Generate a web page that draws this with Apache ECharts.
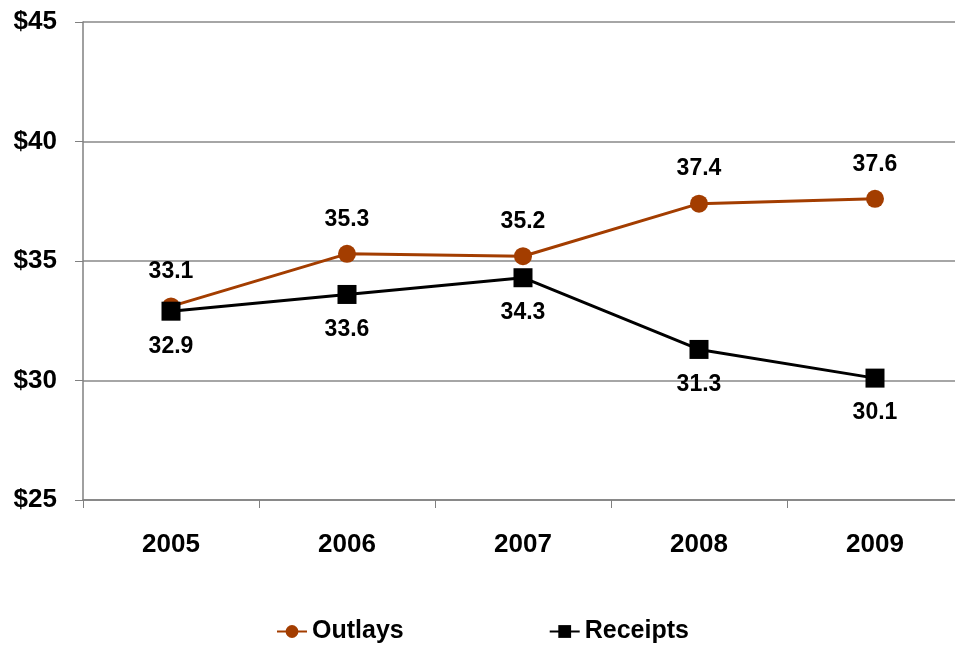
<!DOCTYPE html>
<html><head><meta charset="utf-8">
<script src="https://cdn.jsdelivr.net/npm/echarts@6/dist/echarts.min.js"></script>
<style>html,body{margin:0;padding:0;background:#fff}#c{width:955px;height:645px}</style>
</head><body><div id="c"></div>
<script>
const categories = ['2005','2006','2007','2008','2009'];
const outlays = [33.1, 35.3, 35.2, 37.4, 37.6];
const receipts = [32.9, 33.6, 34.3, 31.3, 30.1];
const yTicks = [25, 30, 35, 40, 45];

const FONT = 'Liberation Sans, Arial, sans-serif';
const chart = echarts.init(document.getElementById('c'));
const lbl = {show:true, fontFamily:FONT, fontWeight:'bold', fontSize:23, color:'#000', distance:14};
chart.setOption({
  animation:false,
  backgroundColor:'#fff',
  grid:{left:83, top:22, width:880, height:478, outerBoundsMode:'none', containLabel:false},
  legend:{
    top:614, left:271, itemGap:145, itemWidth:30, itemHeight:16,
    textStyle:{fontFamily:FONT, fontWeight:'bold', fontSize:25, color:'#000'},
    data:['Outlays','Receipts']
  },
  xAxis:{
    type:'category', data:categories, boundaryGap:true,
    axisLine:{lineStyle:{color:'#808080', width:1.5}},
    axisTick:{show:true, length:8, inside:false, lineStyle:{color:'#808080'}},
    axisLabel:{margin:32, fontFamily:FONT, fontWeight:'bold', fontSize:26, color:'#000'}
  },
  yAxis:{
    type:'value', min:25, max:45, interval:5,
    axisLine:{show:true, lineStyle:{color:'#808080', width:1.5}},
    axisTick:{show:true, length:8, lineStyle:{color:'#808080'}},
    splitLine:{show:true, lineStyle:{color:'#a6a6a6', width:2}},
    axisLabel:{margin:26, fontFamily:FONT, fontWeight:'bold', fontSize:26, color:'#000',
      formatter: v => yTicks.includes(v) ? '$' + v : ''}
  },
  series:[
    {name:'Outlays', type:'line', data:outlays, symbol:'circle', symbolSize:18,
     itemStyle:{color:'#A33D00'}, lineStyle:{color:'#A33D00', width:3},
     label:Object.assign({position:'top'}, lbl)},
    {name:'Receipts', type:'line', data:receipts, symbol:'rect', symbolSize:19,
     itemStyle:{color:'#000'}, lineStyle:{color:'#000', width:3},
     label:Object.assign({position:'bottom'}, lbl)}
  ]
});
</script></body></html>
